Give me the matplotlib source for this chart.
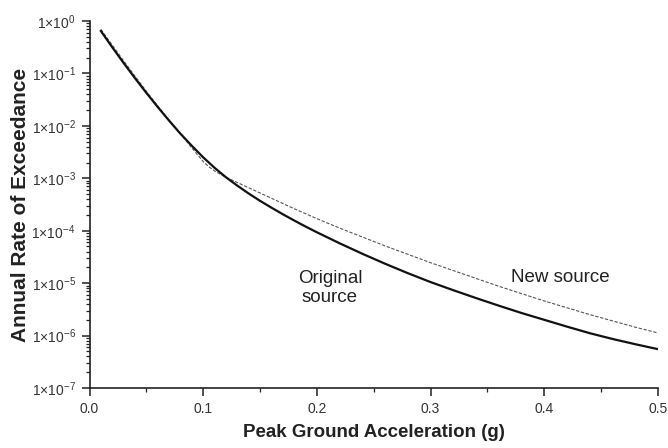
import numpy as np
import matplotlib
matplotlib.use('Agg')
from matplotlib import pyplot as plt
from matplotlib.ticker import FuncFormatter, LogLocator, MultipleLocator, NullFormatter

plt.rcParams['font.family'] = ['Liberation Sans', 'DejaVu Sans']
plt.rcParams['mathtext.default'] = 'regular'

# hazard curves, log10 of annual rate vs PGA (g)
pga_orig = [0.01, 0.02, 0.03, 0.04, 0.05, 0.06, 0.07, 0.08, 0.09, 0.10,
            0.11, 0.12, 0.13, 0.14, 0.15, 0.16, 0.17, 0.18, 0.19, 0.20,
            0.22, 0.24, 0.26, 0.28, 0.30, 0.32, 0.34, 0.36, 0.38, 0.40,
            0.42, 0.44, 0.46, 0.48, 0.50]
log_rate_orig = [-0.19, -0.50, -0.80, -1.09, -1.37, -1.64, -1.90, -2.15, -2.38, -2.60,
                 -2.80, -2.98, -3.14, -3.29, -3.43, -3.56, -3.685, -3.805, -3.92, -4.03,
                 -4.24, -4.44, -4.63, -4.81, -4.98, -5.135, -5.285, -5.43, -5.57, -5.70,
                 -5.83, -5.955, -6.065, -6.165, -6.26]

pga_new = [0.01, 0.02, 0.03, 0.04, 0.05, 0.06, 0.07, 0.08, 0.09, 0.10,
           0.105, 0.11, 0.115, 0.12, 0.13, 0.14, 0.15, 0.16, 0.18, 0.20,
           0.22, 0.24, 0.26, 0.28, 0.30, 0.32, 0.34, 0.36, 0.38, 0.40,
           0.42, 0.44, 0.46, 0.48, 0.50]
log_rate_new = [-0.16, -0.46, -0.76, -1.05, -1.34, -1.62, -1.89, -2.15, -2.42, -2.68,
                -2.78, -2.86, -2.92, -2.98, -3.08, -3.18, -3.28, -3.38, -3.58, -3.77,
                -3.95, -4.12, -4.29, -4.45, -4.61, -4.76, -4.91, -5.06, -5.20, -5.34,
                -5.47, -5.60, -5.72, -5.84, -5.95]

rate_orig = 10.0 ** np.array(log_rate_orig)
rate_new = 10.0 ** np.array(log_rate_new)

fig = plt.figure(figsize=(6.68, 4.48), dpi=100)
ax = fig.add_axes([0.134, 0.134, 0.851, 0.819])

ax.plot(pga_new, rate_new, color='#555555', lw=0.8, ls=(0, (3, 1.5)))
ax.plot(pga_orig, rate_orig, color='#111111', lw=1.6)

ax.set_yscale('log')
ax.set_xlim(0, 0.5)
ax.set_ylim(1e-7, 1)

ax.xaxis.set_major_locator(MultipleLocator(0.1))
ax.xaxis.set_minor_locator(MultipleLocator(0.05))
ax.xaxis.set_major_formatter(FuncFormatter(lambda v, p: '%.1f' % v))
ax.yaxis.set_major_locator(LogLocator(base=10, numticks=20))
ax.yaxis.set_minor_locator(LogLocator(base=10, subs=np.arange(2, 10), numticks=20))
ax.yaxis.set_minor_formatter(NullFormatter())
ax.yaxis.set_major_formatter(FuncFormatter(
    lambda v, p: '1×10$^{%d}$' % int(round(np.log10(v)))))

for side in ['top', 'right']:
    ax.spines[side].set_visible(False)
for side in ['left', 'bottom']:
    ax.spines[side].set_linewidth(1.2)
    ax.spines[side].set_color('#222222')

ax.tick_params(which='major', length=6, width=1.1, labelsize=10, color='#222222',
               labelcolor='#333333', pad=4)
ax.tick_params(which='minor', length=3, width=0.9, color='#222222')

ax.set_xlabel('Peak Ground Acceleration (g)', fontsize=13.5, fontweight='bold',
              color='#222222', labelpad=6)
ax.set_ylabel('Annual Rate of Exceedance', fontsize=15, fontweight='bold',
              color='#222222', labelpad=1)

ax.text(0.2115, 10 ** -5.09, 'Original\nsource', ha='center', va='center',
        fontsize=13.5, color='#222222', linespacing=1.1)
ax.text(0.414, 10 ** -4.89, 'New source', ha='center', va='center',
        fontsize=13.5, color='#222222')

fig.savefig('out.png', dpi=100)
